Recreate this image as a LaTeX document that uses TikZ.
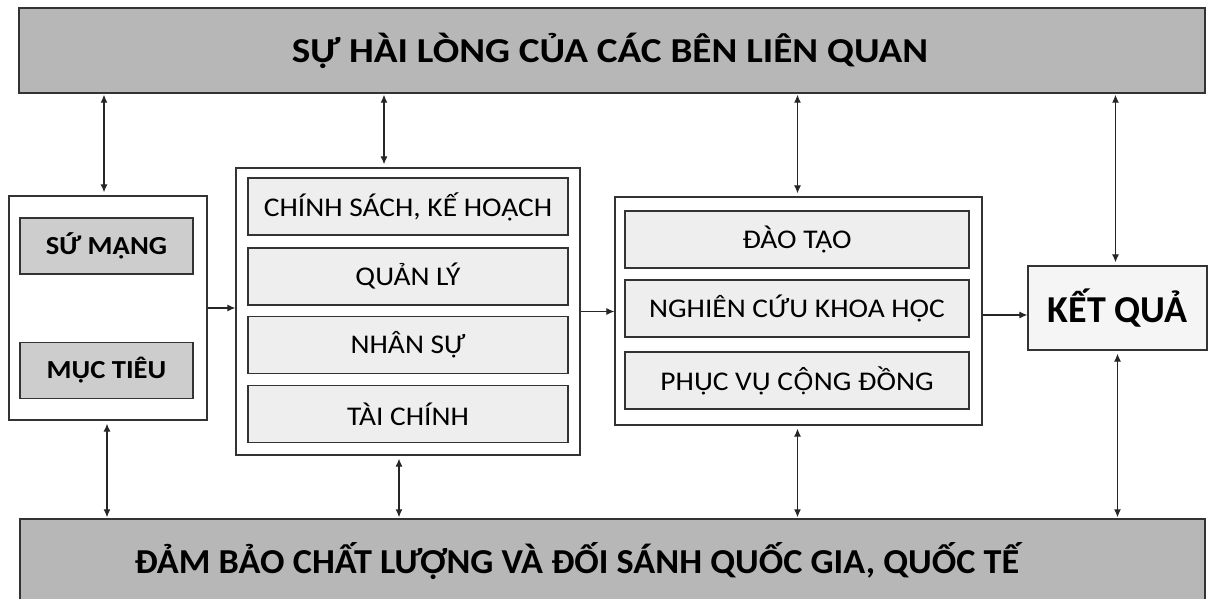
\documentclass[tikz,border=0pt]{standalone}
\usepackage{fontspec}
\setmainfont{Carlito}
\newfontfamily\vnalt{Noto Sans}
\usetikzlibrary{arrows.meta}
\definecolor{bargray}{HTML}{B7B7B7}
\definecolor{darkbox}{HTML}{CDCDCD}
\definecolor{lightbox}{HTML}{EEEEEE}
\definecolor{kbox}{HTML}{F5F5F5}
\definecolor{edge}{HTML}{333333}
\newcommand{\widen}[2]{\scalebox{#1}[1]{#2}}
\tikzset{
  bar/.style={draw=edge, line width=1.4pt, fill=bargray, inner sep=0pt, font=\bfseries\fontsize{35}{40}\selectfont},
  outerbox/.style={draw=edge, line width=1.3pt, fill=white, inner sep=0pt},
  darkitem/.style={draw=edge, line width=1.2pt, fill=darkbox, inner sep=0pt, minimum width=173pt, minimum height=56pt, font=\bfseries\fontsize{26}{30}\selectfont},
  lightitem/.style={draw=edge, line width=1.1pt, fill=lightbox, inner sep=0pt, minimum height=57pt, font=\fontsize{27}{32}\selectfont},
  conn/.style={line width=1.2pt, draw=black!85, -{Latex[length=8pt,width=7pt]}},
  biconn/.style={line width=1.2pt, draw=black!85, {Latex[length=8pt,width=7pt]}-{Latex[length=8pt,width=7pt]}, shorten >=3pt, shorten <=1pt}
}
\begin{document}
\begin{tikzpicture}[x=1pt,y=-1pt]
\useasboundingbox[fill=white] (0,0) rectangle (1211,599);
% bars
\node[bar, minimum width=1186pt, minimum height=85pt] (top) at (612,50.5) {};
\node[font=\bfseries\fontsize{35}{40}\selectfont] (toptext) at (610,51) {\widen{1.12}{SỰ HÀI LÒNG CỦA CÁC BÊN LIÊN QUAN}};
\node[bar, minimum width=1185pt, minimum height=84pt] (bot) at (612.5,561) {};
\node[font=\bfseries\fontsize{35}{40}\selectfont] (bottext) at (577,561) {\widen{1.035}{ĐẢM BẢO CHẤT LƯỢNG VÀ ĐỐI SÁNH QUỐC GIA, QUỐC TẾ}};
% left box
\node[outerbox, minimum width=198pt, minimum height=224pt] (L) at (108,308) {};
\node[darkitem] (sm) at (106.5,246) {\widen{1.1}{SỨ MẠNG}};
\node[darkitem] (mt) at (106.5,370.5) {\widen{1.1}{MỤC TIÊU}};
% middle box
\node[outerbox, minimum width=344pt, minimum height=287pt] (M) at (408,311.5) {};
\node[lightitem, minimum width=320pt] (c1) at (408,206.5) {\widen{1.09}{CHÍNH SÁCH, KẾ HOẠCH}};
\node[lightitem, minimum width=320pt] (c2) at (408,276.5) {\widen{1.09}{QUẢN LÝ}};
\node[lightitem, minimum width=320pt] (c3) at (408,345) {\widen{1.09}{NHÂN SỰ}};
\node[lightitem, minimum width=320pt] (c4) at (408,414) {\widen{1.09}{TÀI CHÍNH}};
% right box
\node[outerbox, minimum width=367pt, minimum height=228pt] (R) at (798.5,311) {};
\node[lightitem, minimum width=344pt] (r1) at (797,239.5) {\widen{1.09}{ĐÀO TẠO}};
\node[lightitem, minimum width=344pt] (r2) at (797,308.5) {\widen{1.09}{NGHIÊN CỨU KHOA HỌC}};
\node[lightitem, minimum width=344pt] (r3) at (797,380.5) {\widen{1.09}{PHỤC VỤ C{\vnalt\fontsize{24.4}{30}\selectfont Ộ}NG ĐỒNG}};
% result
\node[outerbox, fill=kbox, minimum width=179pt, minimum height=84pt, font=\bfseries\fontsize{38}{44}\selectfont] (K) at (1117.5,308) {KẾT QUẢ};
% horizontal arrows
\draw[conn] (L.east) -- (L.east -| M.west);
\draw[conn] (M.east) -- (M.east -| R.west);
\draw[conn] ([yshift=-4pt]R.east) -- ([yshift=-4pt]R.east -| K.west);
% vertical arrows
\draw[biconn] ([xshift=-4pt]top.south -| L.north) -- ([xshift=-4pt]L.north);
\draw[biconn] ([xshift=-24pt]top.south -| M.north) -- ([xshift=-24pt]M.north);
\draw[biconn] ([xshift=-1pt]top.south -| R.north) -- ([xshift=-1pt]R.north);
\draw[biconn] ([xshift=-2pt]top.south -| K.north) -- ([xshift=-2pt]K.north);
\draw[biconn] ([xshift=-1pt]bot.north -| L.south) -- ([xshift=-1pt]L.south);
\draw[biconn] ([xshift=-9pt]bot.north -| M.south) -- ([xshift=-9pt]M.south);
\draw[biconn] ([xshift=-1pt]bot.north -| R.south) -- ([xshift=-1pt]R.south);
\draw[biconn] ([xshift=0pt]bot.north -| K.south) -- ([xshift=0pt]K.south);
\end{tikzpicture}
\end{document}
